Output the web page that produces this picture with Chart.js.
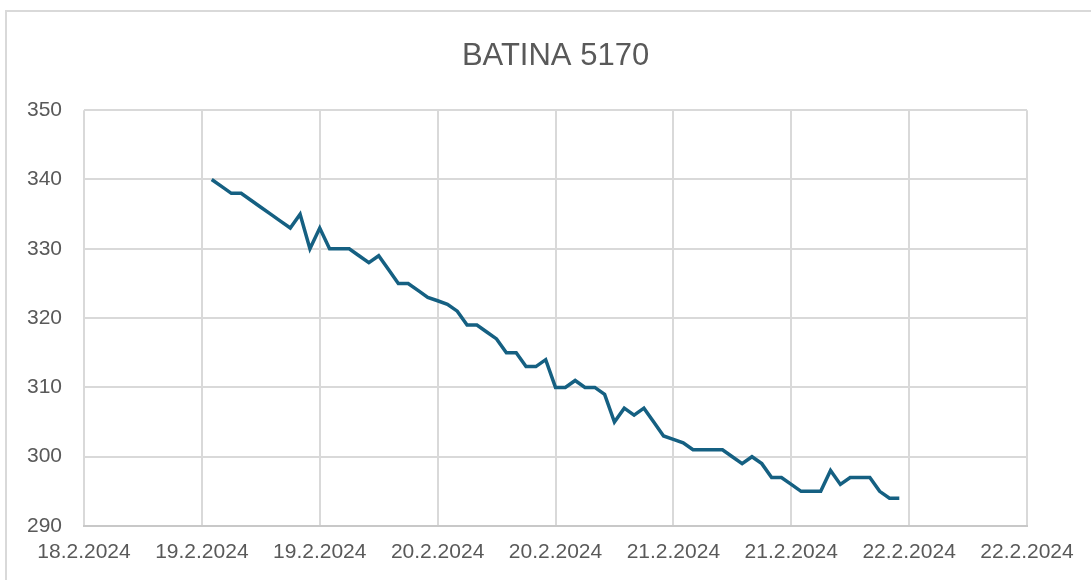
<!DOCTYPE html>
<html lang="hr">
<head>
<meta charset="UTF-8">
<title>BATINA 5170</title>
<script src="https://cdn.jsdelivr.net/npm/chart.js@4.4.1/dist/chart.umd.min.js"></script>
<style>
  html, body { margin: 0; padding: 0; background: #fff; }
  #wrap { position: relative; width: 1091px; height: 580px; overflow: hidden; }
  #frame { position: absolute; left: 5px; top: 10px; width: 1200px; height: 700px;
           border: 2px solid #d9d9d9; box-sizing: border-box; }
  #c { position: absolute; left: 0; top: 0; }
</style>
</head>
<body>
<div id="wrap">
  <div id="frame"></div>
  <canvas id="c" width="1091" height="580"></canvas>
</div>
<script>
// hourly water level readings, first one at 19.2.2024 01:00
// (x = hours counted from 18.2.2024 00:00)
const firstReadingHour = 25;
const levels = [
  340, 339, 338, 338, 337, 336, 335, 334, 333, 335,
  330, 333, 330, 330, 330, 329, 328, 329, 327, 325,
  325, 324, 323, 322.5, 322, 321, 319, 319, 318, 317,
  315, 315, 313, 313, 314, 310, 310, 311, 310, 310,
  309, 305, 307, 306, 307, 305, 303, 302.5, 302, 301,
  301, 301, 301, 300, 299, 300, 299, 297, 297, 296,
  295, 295, 295, 298, 296, 297, 297, 297, 295, 294,
  294
];

// axis labels, one every 12 hours from 18.2.2024 12:00
const xTickLabels = ['18.2.2024', '19.2.2024', '19.2.2024', '20.2.2024', '20.2.2024',
                     '21.2.2024', '21.2.2024', '22.2.2024', '22.2.2024'];
const yTicks = [290, 300, 310, 320, 330, 340, 350];

const points = levels.map((v, i) => ({ x: firstReadingHour + i, y: v }));

const textColor = '#595959';
const gridColor = '#d9d9d9';
const font = 'Liberation Sans, Arial, sans-serif';

new Chart(document.getElementById('c'), {
  type: 'line',
  data: {
    datasets: [{
      label: 'BATINA 5170',
      data: points,
      borderColor: '#156082',
      borderWidth: 3.5,
      pointRadius: 0,
      tension: 0,
      fill: false
    }]
  },
  options: {
    responsive: false,
    animation: false,
    layout: { padding: { left: 0, right: 64, top: 0, bottom: 0 } },
    plugins: {
      legend: { display: false },
      tooltip: { enabled: false },
      title: {
        display: true,
        fullSize: false,
        text: 'BATINA 5170',
        color: textColor,
        font: { family: font, size: 31, weight: 'normal' },
        padding: { top: 38, bottom: 35 }
      }
    },
    scales: {
      x: {
        type: 'linear',
        min: 12,
        max: 108,
        afterFit: s => { s.height = 54; },
        ticks: {
          stepSize: 12,
          color: textColor,
          font: { family: font, size: 21 },
          padding: 14,
          maxRotation: 0,
          autoSkip: false,
          callback: (v, i) => xTickLabels[i]
        },
        grid: { color: gridColor, lineWidth: 2, drawTicks: false },
        border: { color: '#c8c8c8', width: 2 }
      },
      y: {
        min: yTicks[0],
        max: yTicks[yTicks.length - 1],
        afterFit: s => { s.width = 84; },
        afterBuildTicks: s => { s.ticks = yTicks.map(v => ({ value: v })); },
        ticks: {
          color: textColor,
          font: { family: font, size: 21 },
          padding: 22
        },
        grid: { color: gridColor, lineWidth: 2, drawTicks: false },
        border: { display: false }
      }
    }
  }
});
</script>
</body>
</html>
